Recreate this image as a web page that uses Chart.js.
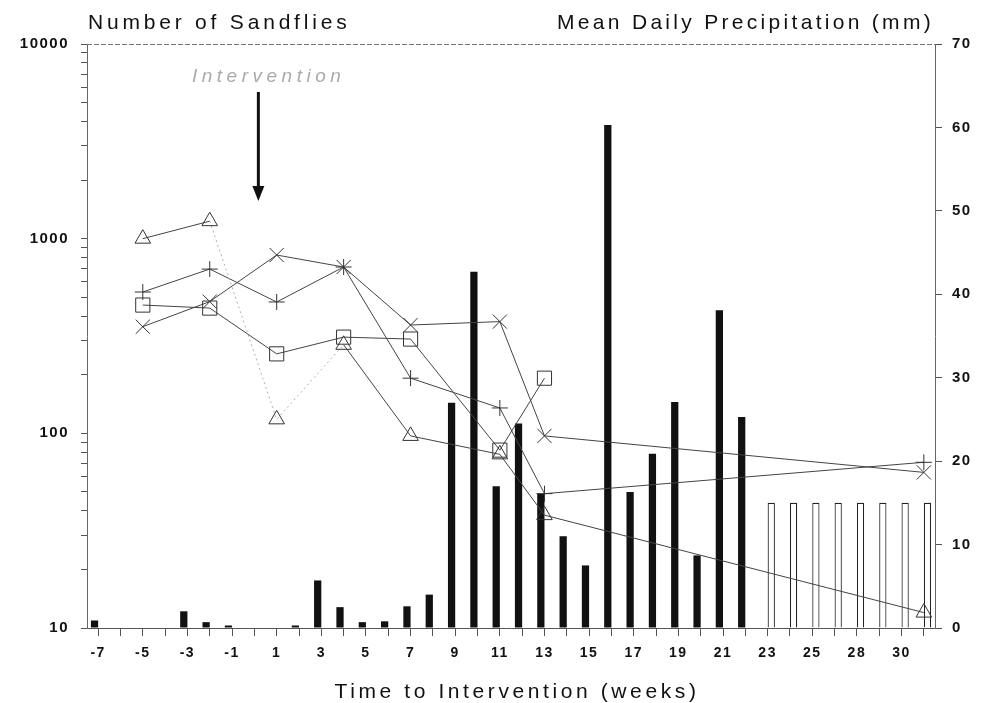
<!DOCTYPE html>
<html>
<head>
<meta charset="utf-8">
<script src="https://cdn.jsdelivr.net/npm/chart.js@4.4.0/dist/chart.umd.min.js"></script>
<style>
  body { margin: 0; background: #fff; }
  #wrap { width: 983px; height: 703px; position: relative; }
</style>
</head>
<body>
<div id="wrap"><canvas id="sandChart"></canvas></div>
<script>
// weeks relative to the intervention (one category per sampling week)
const weeks = [-7, -6, -5, -4, -3, -2, -1, 0, 1, 2, 3, 4, 5, 6, 7, 8, 9, 10, 11, 12,
  13, 14, 15, 16, 17, 18, 19, 20, 21, 22, 23, 24, 25, 26, 28, 29, 30, 31];

// mean daily precipitation (mm), measured
const rainfall = [0.9, null, null, null, 2.0, 0.7, 0.3, null, null, 0.3, 5.7, 2.5, 0.7, 0.8, 2.6, 4.0,
  27.0, 42.7, 17.0, 24.5, 16.1, 11.0, 7.5, 60.3, 16.3, 20.9, 27.1, 8.7, 38.1, 25.3,
  null, null, null, null, null, null, null, null];

// open bars at the end
const rainOpen = [null, null, null, null, null, null, null, null, null, null, null, null, null, null, null,
  null, null, null, null, null, null, null, null, null, null, null, null, null, null, null,
  15, 15, 15, 15, 15, 15, 15, 15];

// number of sandflies per site
const siteTriangle = [null, null, 1000, null, null, 1230, null, null, 118, null, null, 285, null, null, 97,
  null, null, null, 78, null, 38, null, null, null, null, null, null, null, null, null,
  null, null, null, null, null, null, null, 12];
const siteSquare = [null, null, 456, null, null, 440, null, null, 256, null, null, 312, null, null, 305,
  null, null, null, 82, null, 192, null, null, null, null, null, null, null, null, null,
  null, null, null, null, null, null, null, null];
const sitePlus = [null, null, 532, null, null, 698, null, null, 473, null, null, 715, null, null, 192,
  null, null, null, 135, null, 49, null, null, null, null, null, null, null, null, null,
  null, null, null, null, null, null, null, 71];
const siteCross = [null, null, 353, null, null, 475, null, null, 824, null, null, 715, null, null, 360,
  null, null, null, 375, null, 97, null, null, null, null, null, null, null, null, null,
  null, null, null, null, null, null, null, 63];

const leftTicks = [10, 100, 1000, 10000];
const rightTicks = [0, 10, 20, 30, 40, 50, 60, 70];

// faint (dotted) part of the triangle series: from index 5 to index 11
const faintSpan = [5, 11];

Chart.defaults.font.family = "'Liberation Sans', Arial, sans-serif";
Chart.defaults.color = "#111";

function lineSet(label, data, style, radius, faint) {
  const set = {
    type: "line",
    label: label,
    data: data,
    yAxisID: "y",
    order: 0,
    borderColor: "#444",
    borderWidth: 1,
    spanGaps: true,
    tension: 0,
    pointStyle: style,
    pointRadius: radius,
    pointHoverRadius: radius,
    pointBorderColor: "#333",
    pointBorderWidth: 1,
    pointBackgroundColor: "rgba(255,255,255,0)"
  };
  if (faint) {
    const inSpan = (c) => c.p0DataIndex >= faint[0] && c.p1DataIndex <= faint[1];
    set.segment = {
      borderColor: (c) => inSpan(c) ? "#b0b0b0" : undefined,
      borderDash: (c) => inSpan(c) ? [2, 3] : undefined
    };
  }
  return set;
}

// textes et fleche
const textPlugin = {
  id: "textPlugin",
  beforeDraw(chart) {
    chart.ctx.letterSpacing = "1.5px";
  },
  afterDraw(chart) {
    const ctx = chart.ctx;
    ctx.save();
    ctx.fillStyle = "#111";
    ctx.textBaseline = "alphabetic";
    ctx.font = "21px 'Liberation Sans', Arial, sans-serif";
    ctx.letterSpacing = "3.8px";
    ctx.textAlign = "left";
    ctx.fillText("Number of Sandflies", 88, 29);
    ctx.letterSpacing = "3.3px";
    ctx.textAlign = "right";
    ctx.fillText("Mean Daily Precipitation (mm)", 934, 29);
    ctx.letterSpacing = "3.6px";
    ctx.textAlign = "center";
    ctx.fillText("Time to Intervention (weeks)", 517, 698);

    ctx.letterSpacing = "4.5px";
    ctx.textAlign = "left";
    ctx.fillStyle = "#aaa";
    ctx.font = "italic 19px 'Liberation Sans', Arial, sans-serif";
    ctx.fillText("Intervention", 192, 82);

    // top border
    const a = chart.chartArea;
    ctx.strokeStyle = "#777";
    ctx.lineWidth = 1;
    ctx.setLineDash([5, 2]);
    ctx.beginPath();
    ctx.moveTo(a.left, a.top + 0.5);
    ctx.lineTo(a.right, a.top + 0.5);
    ctx.stroke();
    ctx.setLineDash([]);

    // arrow
    const x = chart.scales.x.getPixelForValue(7) + 4;
    ctx.fillStyle = "#111";
    ctx.fillRect(x - 1.5, 92, 3, 96);
    ctx.beginPath();
    ctx.moveTo(x - 6, 186);
    ctx.lineTo(x + 6, 186);
    ctx.lineTo(x, 201);
    ctx.closePath();
    ctx.fill();
    ctx.restore();
  }
};

const ctx = document.getElementById("sandChart");
const sandChart = new Chart(ctx, {
  type: "bar",
  data: {
    labels: weeks,
    datasets: [
      lineSet("Triangle", siteTriangle, "triangle", 9, faintSpan),
      lineSet("Square", siteSquare, "rect", 10),
      lineSet("Plus", sitePlus, "cross", 8),
      lineSet("Cross", siteCross, "crossRot", 10),
      {
        label: "Precipitation",
        data: rainfall,
        yAxisID: "y1",
        order: 1,
        backgroundColor: "#111",
        borderWidth: 0,
        categoryPercentage: 0.65,
        barPercentage: 1.0
      },
      {
        label: "Precipitation (open)",
        data: rainOpen,
        yAxisID: "y1",
        order: 1,
        backgroundColor: "#fff",
        borderColor: "#222",
        borderWidth: 1.2,
        categoryPercentage: 0.65,
        barPercentage: 1.0
      }
    ]
  },
  options: {
    responsive: true,
    maintainAspectRatio: false,
    animation: false,
    layout: { padding: { top: 44, left: 0, right: 0, bottom: 0 } },
    plugins: {
      legend: { display: false },
      tooltip: { enabled: false }
    },
    scales: {
      x: {
        afterFit: (s) => { s.height = 75; },
        border: { display: true, color: "#555", dash: [4, 2] },
        grid: { drawOnChartArea: false, offset: false, tickLength: 8, color: "#555" },
        ticks: {
          autoSkip: false,
          maxRotation: 0,
          padding: 9,
          font: { size: 14, weight: "bold" },
          callback: function (value, index) {
            return index % 2 === 0 ? String(weeks[index]) : "";
          }
        }
      },
      y: {
        type: "logarithmic",
        position: "left",
        min: 10,
        max: 10000,
        afterFit: (s) => { s.width = 87; },
        afterBuildTicks: (s) => {
          const t = [];
          for (let d = 0; d < leftTicks.length - 1; d++) {
            for (let k = 1; k < 10; k++) t.push({ value: leftTicks[d] * k });
          }
          t.push({ value: leftTicks[leftTicks.length - 1] });
          s.ticks = t;
        },
        border: { display: true, color: "#666", dash: [4, 2] },
        grid: { drawOnChartArea: false, tickLength: 6, color: "#555" },
        ticks: {
          padding: 12,
          font: { size: 15, weight: "bold" },
          callback: (value) => leftTicks.includes(value) ? String(value) : ""
        }
      },
      y1: {
        type: "linear",
        position: "right",
        min: 0,
        max: 70,
        afterFit: (s) => { s.width = 48; },
        afterBuildTicks: (s) => { s.ticks = rightTicks.map(v => ({ value: v })); },
        border: { display: true, color: "#666", dash: [4, 2] },
        grid: { drawOnChartArea: false, tickLength: 7, color: "#555" },
        ticks: {
          padding: 10,
          font: { size: 15, weight: "bold" }
        }
      }
    }
  },
  plugins: [textPlugin]
});
</script>
</body>
</html>
